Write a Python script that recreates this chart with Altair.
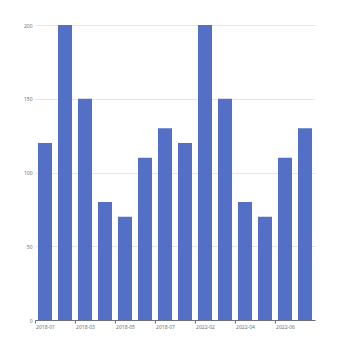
import altair as alt
import pandas as pd

months = ["2018-01", "2018-02", "2018-03", "2018-04", "2018-05", "2018-06", "2018-07",
          "2022-01", "2022-02", "2022-03", "2022-04", "2022-05", "2022-06", "2022-07"]
values = [120, 200, 150, 80, 70, 110, 130, 120, 200, 150, 80, 70, 110, 130]
shown_labels = ["2018-01", "2018-03", "2018-05", "2018-07", "2022-02", "2022-04", "2022-06"]

df = pd.DataFrame({"month": months, "value": values})

chart = alt.Chart(df).mark_bar(color="#5470c6").encode(
    x=alt.X("month:N", sort=None, title=None,
            scale=alt.Scale(paddingInner=0.3, paddingOuter=0.15),
            axis=alt.Axis(values=shown_labels, labelAngle=0, labelFontSize=5,
                          labelColor="#6E7079", labelFont="Noto Sans",
                          domainColor="#6E7079", tickColor="#6E7079",
                          tickSize=3, tickOffset=-10, labelOffset=10,
                          labelPadding=1, grid=False)),
    y=alt.Y("value:Q", title=None,
            scale=alt.Scale(domain=[0, 200], nice=False),
            axis=alt.Axis(values=[0, 50, 100, 150, 200], labelFontSize=5,
                          labelColor="#6E7079", labelFont="Noto Sans",
                          domain=False, ticks=False, labelPadding=3,
                          gridColor="#E0E6F1", gridWidth=1)),
).properties(
    width=280, height=295,
    autosize=alt.AutoSizeParams(type="none"),
    padding={"left": 35, "top": 25, "right": 35, "bottom": 30},
).configure_view(stroke=None)

chart.save("out.html", embed_options={"renderer": "svg", "actions": False})
